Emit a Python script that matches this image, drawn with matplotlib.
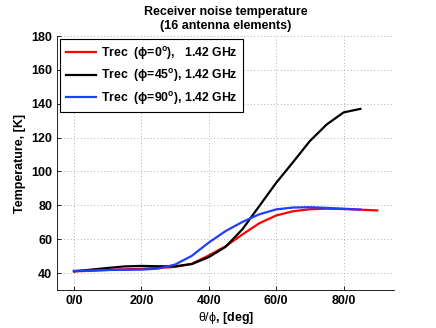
import matplotlib
matplotlib.use("Agg")
import matplotlib.pyplot as plt

theta = [0, 5, 10, 15, 20, 25, 30, 35, 40, 45, 50, 55, 60, 65, 70, 75, 80, 85, 90]
trec_phi0 = [41.0, 41.3, 41.8, 42.2, 42.5, 43.0, 43.6, 45.5, 50.4, 55.8, 62.8, 69.4, 74.0, 76.5, 77.7, 78.0, 77.8, 77.4, 77.0]
theta45 = [0, 5, 10, 15, 20, 25, 30, 35, 40, 45, 50, 55, 60, 65, 70, 75, 80, 85]
trec_phi45 = [41.0, 42.0, 43.0, 43.9, 44.2, 44.0, 44.0, 45.3, 49.4, 55.5, 65.9, 79.6, 93.3, 105.5, 118.0, 127.8, 134.9, 137.0]
theta90 = [0, 5, 10, 15, 20, 25, 30, 35, 40, 45, 50, 55, 60, 65, 70, 75, 80, 85]
trec_phi90 = [41.3, 41.5, 41.8, 41.9, 42.0, 42.6, 45.0, 50.2, 58.0, 64.8, 70.2, 74.7, 77.6, 78.7, 78.9, 78.5, 78.0, 77.5]
xticks = [0, 20, 40, 60, 80]
xticklabels = ["0/0", "20/0", "40/0", "60/0", "80/0"]
yticks = [40, 60, 80, 100, 120, 140, 160, 180]

plt.rcParams['font.family'] = ['Liberation Sans', 'DejaVu Sans']
plt.rcParams['mathtext.fontset'] = 'custom'
plt.rcParams['mathtext.rm'] = 'Liberation Sans'
plt.rcParams['mathtext.bf'] = 'Liberation Sans:bold'
plt.rcParams['mathtext.it'] = 'Liberation Sans'

fig = plt.figure(figsize=(4.36, 3.28), dpi=100)
ax = fig.add_axes([0.131, 0.116, 0.773, 0.774])

ax.plot(theta, trec_phi0, color='#ff0000', lw=1.6, label='Trec  (\u03d5=0$^\\mathbf{o}$),   1.42 GHz')
ax.plot(theta45, trec_phi45, color='#000000', lw=1.6, label='Trec  (\u03d5=45$^\\mathbf{o}$), 1.42 GHz')
ax.plot(theta90, trec_phi90, color='#1f3fff', lw=1.6, label='Trec  (\u03d5=90$^\\mathbf{o}$), 1.42 GHz')

ax.set_xlim(-5, 95)
ax.set_ylim(30, 180)
ax.set_xticks(xticks)
ax.set_xticklabels(xticklabels)
ax.set_yticks(yticks)
ax.tick_params(direction='in', length=3, labelsize=9, width=0.6)
for lab in ax.get_xticklabels() + ax.get_yticklabels():
    lab.set_fontweight('bold')
ax.grid(True, linestyle=(0, (1, 3)), color='#999999', linewidth=0.6)
ax.spines['top'].set_visible(False)
ax.spines['right'].set_visible(False)
for s in ['left', 'bottom']:
    ax.spines[s].set_linewidth(0.6)

ax.set_xlabel('$\\mathrm{\u03b8/\u03d5}$, [deg]', fontsize=9, fontweight='bold', labelpad=2)
ax.set_ylabel('Temperature, [K]', fontsize=9, fontweight='bold')
ax.set_title('Receiver noise temperature\n(16 antenna elements)', fontsize=9, fontweight='bold', pad=5)

leg = ax.legend(loc='upper left', prop={'size': 8.8, 'weight': 'bold'}, frameon=True, fancybox=False,
                edgecolor='black', framealpha=1, borderaxespad=0.25, handlelength=2.5,
                handletextpad=0.35, labelspacing=0.45, borderpad=0.45)
leg.get_frame().set_linewidth(0.8)

fig.savefig('out.png', dpi=100)
